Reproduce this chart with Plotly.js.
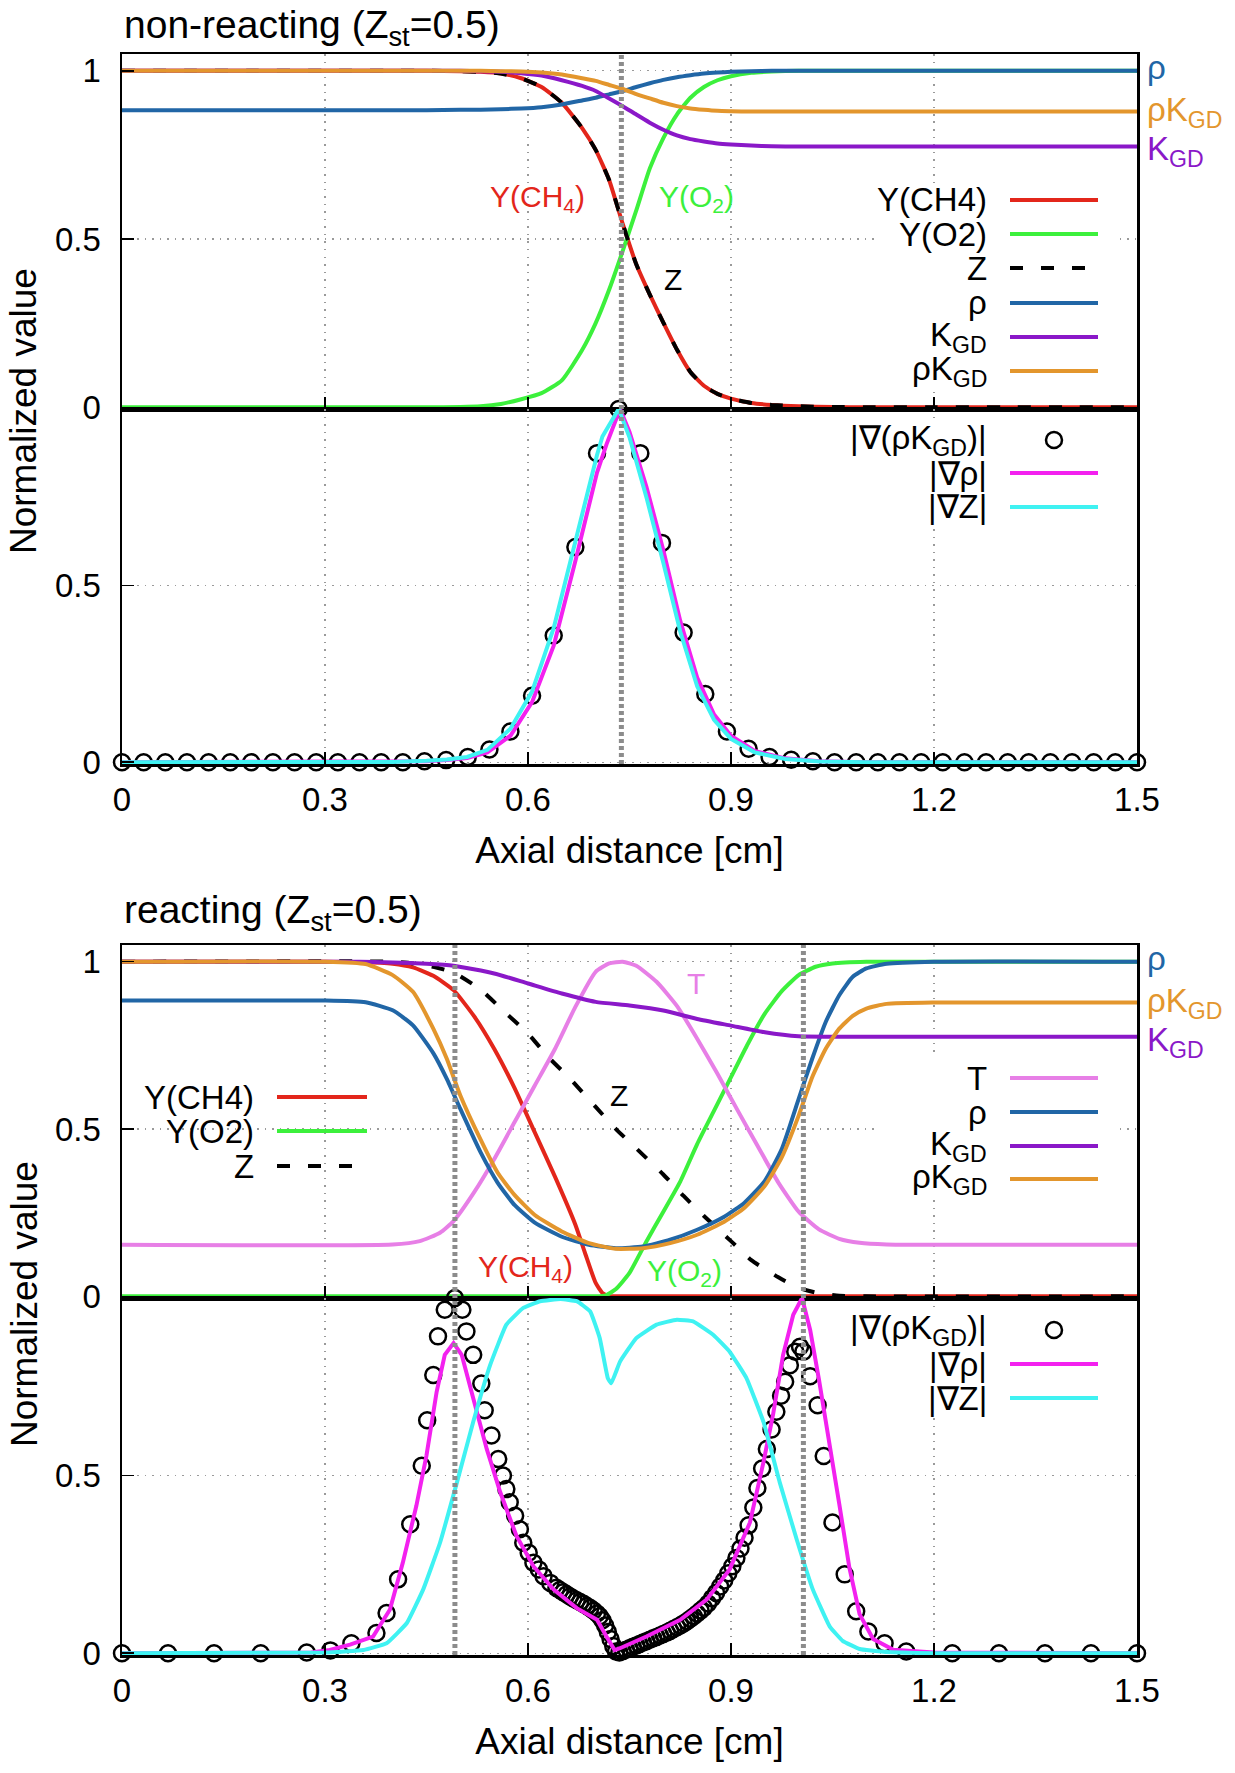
<!DOCTYPE html>
<html>
<head>
<meta charset="utf-8">
<script src="https://cdn.plot.ly/plotly-3.0.1.min.js"></script>
<style>
  html, body { margin: 0; padding: 0; background: #fff; }
  #chart { width: 1235px; height: 1773px; }
</style>
</head>
<body>
<div id="chart"></div>
<script>
// ---------------- non-reacting case: profiles along the axis ----------------
const xNR = [0, 0.1, 0.2, 0.3, 0.4, 0.45, 0.5, 0.53, 0.56, 0.59, 0.62, 0.65, 0.68, 0.70, 0.72, 0.74, 0.76,
             0.78, 0.80, 0.82, 0.84, 0.86, 0.88, 0.90, 0.93, 0.96, 1.0, 1.05, 1.1, 1.2, 1.3, 1.4, 1.5];
const nrYCH4 = [1, 1, 1, 1, 1, 1, 0.999, 0.997, 0.992, 0.978, 0.952, 0.905, 0.83, 0.765, 0.675, 0.545, 0.425,
                0.335, 0.252, 0.172, 0.105, 0.064, 0.04, 0.026, 0.013, 0.007, 0.003, 0.001, 0, 0, 0, 0, 0];
const nrYO2 = [0, 0, 0, 0, 0, 0, 0.001, 0.003, 0.01, 0.024, 0.042, 0.08, 0.17, 0.25, 0.35, 0.465, 0.585,
               0.71, 0.80, 0.87, 0.92, 0.952, 0.972, 0.984, 0.994, 0.998, 1, 1, 1, 1, 1, 1, 1];
const nrZ = [1, 1, 1, 1, 1, 1, 0.999, 0.997, 0.992, 0.978, 0.952, 0.905, 0.83, 0.765, 0.675, 0.545, 0.425,
             0.335, 0.252, 0.172, 0.105, 0.064, 0.04, 0.026, 0.013, 0.007, 0.003, 0.001, 0, 0, 0, 0, 0];
const nrRho = [0.883, 0.883, 0.883, 0.883, 0.883, 0.883, 0.884, 0.884, 0.886, 0.888, 0.892, 0.9, 0.912, 0.92, 0.93,
               0.94, 0.952, 0.963, 0.973, 0.981, 0.987, 0.992, 0.995, 0.997, 0.999, 1, 1, 1, 1, 1, 1, 1, 1];
const nrKgd = [1, 1, 1, 1, 1, 1, 1, 0.999, 0.997, 0.993, 0.986, 0.972, 0.955, 0.94, 0.918, 0.895, 0.87,
               0.846, 0.825, 0.808, 0.797, 0.79, 0.784, 0.781, 0.778, 0.776, 0.775, 0.775, 0.775, 0.775, 0.775, 0.775, 0.775];
const nrRhoKgd = [1, 1, 1, 1, 1, 1, 1, 1, 0.999, 0.998, 0.995, 0.989, 0.978, 0.97, 0.958, 0.946, 0.931,
                  0.918, 0.905, 0.895, 0.888, 0.884, 0.881, 0.88, 0.879, 0.879, 0.879, 0.879, 0.879, 0.879, 0.879, 0.879, 0.879];

// normalised gradient magnitudes (non-reacting)
const xNRgradZ = [0, 0.40, 0.45, 0.48, 0.51, 0.54, 0.574, 0.606, 0.638, 0.670, 0.702, 0.71, 0.734, 0.75, 0.775,
                  0.80, 0.825, 0.85, 0.875, 0.90, 0.935, 0.98, 1.03, 1.1, 1.5];
const nrGradZ = [0, 0.001, 0.004, 0.008, 0.015, 0.035, 0.095, 0.2, 0.38, 0.63, 0.87, 0.922, 1.0, 0.92, 0.75,
                 0.565, 0.37, 0.215, 0.12, 0.066, 0.028, 0.009, 0.002, 0, 0];
const xNRgradRho = [0, 0.40, 0.45, 0.48, 0.51, 0.54, 0.574, 0.606, 0.638, 0.670, 0.702, 0.716, 0.736, 0.75, 0.775,
                    0.80, 0.825, 0.85, 0.875, 0.90, 0.935, 0.98, 1.03, 1.1, 1.5];
const nrGradRho = [0, 0.001, 0.003, 0.006, 0.012, 0.028, 0.075, 0.17, 0.33, 0.57, 0.82, 0.9, 1.0, 0.935, 0.78,
                   0.6, 0.4, 0.24, 0.135, 0.075, 0.032, 0.011, 0.003, 0, 0];
const xNRgradRhoK = [0, 0.032, 0.064, 0.096, 0.128, 0.160, 0.191, 0.223, 0.255, 0.287, 0.319, 0.351, 0.383, 0.415,
                     0.447, 0.479, 0.511, 0.543, 0.574, 0.606, 0.638, 0.670, 0.702, 0.734, 0.766, 0.798, 0.830,
                     0.862, 0.894, 0.926, 0.957, 0.989, 1.021, 1.053, 1.085, 1.117, 1.149, 1.181, 1.213, 1.245,
                     1.277, 1.309, 1.340, 1.372, 1.404, 1.436, 1.468, 1.5];
const nrGradRhoK = [0, 0, 0, 0, 0, 0, 0, 0, 0, 0, 0, 0, 0, 0,
                    0.003, 0.006, 0.015, 0.036, 0.087, 0.188, 0.359, 0.609, 0.875, 1.0, 0.875, 0.621, 0.367,
                    0.193, 0.087, 0.038, 0.015, 0.007, 0.003, 0, 0, 0, 0, 0, 0, 0,
                    0, 0, 0, 0, 0, 0, 0, 0];

// ---------------- reacting case: profiles along the axis ----------------
const xRCH4 = [0, 0.30, 0.35, 0.40, 0.43, 0.46, 0.49, 0.52, 0.55, 0.58, 0.61, 0.64, 0.67, 0.685, 0.70, 0.71, 0.72, 0.75, 1.0, 1.5];
const rYCH4 = [1, 1, 0.999, 0.994, 0.983, 0.958, 0.915, 0.838, 0.74, 0.623, 0.49, 0.357, 0.214, 0.125, 0.04, 0.01, 0.001, 0, 0, 0];
const xRO2 = [0, 0.70, 0.715, 0.73, 0.75, 0.775, 0.80, 0.825, 0.85, 0.875, 0.90, 0.925, 0.95, 0.975, 1.0, 1.025, 1.05, 1.1, 1.5];
const rYO2 = [0, 0, 0.003, 0.022, 0.07, 0.164, 0.253, 0.343, 0.455, 0.555, 0.655, 0.755, 0.845, 0.912, 0.96, 0.985, 0.995, 1, 1];
const xRZ = [0, 0.40, 0.43, 0.46, 0.49, 0.53, 0.56, 0.60, 0.63, 0.66, 0.70, 0.73, 0.76, 0.80, 0.83, 0.86, 0.90, 0.93,
             0.97, 1.0, 1.03, 1.06, 1.1, 1.5];
const rZ = [1, 1, 0.995, 0.985, 0.968, 0.917, 0.86, 0.785, 0.715, 0.655, 0.566, 0.5, 0.442, 0.364, 0.3, 0.24, 0.165, 0.108,
            0.057, 0.025, 0.009, 0.002, 0, 0];
const xRT = [0, 0.40, 0.44, 0.47, 0.49, 0.52, 0.55, 0.58, 0.61, 0.64, 0.67, 0.70, 0.72, 0.74, 0.76, 0.79, 0.82, 0.85,
             0.88, 0.91, 0.94, 0.97, 1.0, 1.03, 1.06, 1.09, 1.13, 1.2, 1.5];
const rT = [0.154, 0.155, 0.165, 0.19, 0.225, 0.31, 0.41, 0.52, 0.63, 0.74, 0.865, 0.97, 0.995, 1.0, 0.988, 0.94, 0.868, 0.77,
            0.665, 0.555, 0.447, 0.34, 0.253, 0.2, 0.172, 0.16, 0.155, 0.154, 0.154];
const xRRho = [0, 0.30, 0.36, 0.40, 0.43, 0.46, 0.48, 0.50, 0.53, 0.555, 0.58, 0.61, 0.65, 0.69, 0.73, 0.77, 0.81, 0.85,
               0.89, 0.92, 0.95, 0.975, 1.0, 1.02, 1.04, 1.06, 1.08, 1.10, 1.13, 1.2, 1.5];
const rRho = [0.884, 0.884, 0.879, 0.855, 0.81, 0.727, 0.65, 0.56, 0.43, 0.34, 0.273, 0.22, 0.178, 0.154, 0.144, 0.149, 0.169, 0.199,
              0.238, 0.28, 0.345, 0.44, 0.59, 0.71, 0.82, 0.9, 0.955, 0.98, 0.994, 1.0, 1.0];
const rRhoKgd = [1, 1, 0.993, 0.96, 0.91, 0.80, 0.71, 0.6, 0.468, 0.37, 0.303, 0.243, 0.194, 0.159, 0.142, 0.144, 0.159, 0.184,
                 0.223, 0.265, 0.33, 0.415, 0.54, 0.655, 0.74, 0.80, 0.838, 0.86, 0.874, 0.878, 0.878];
const xRKgd = [0, 0.35, 0.40, 0.45, 0.49, 0.55, 0.60, 0.65, 0.70, 0.75, 0.80, 0.85, 0.90, 0.95, 1.0, 1.05, 1.5];
const rKgd = [1.0, 1.0, 0.998, 0.994, 0.988, 0.965, 0.935, 0.905, 0.88, 0.869, 0.854, 0.829, 0.809, 0.789, 0.777, 0.776, 0.776];

// normalised gradient magnitudes (reacting)
const xRgradRho = [0, 0.28, 0.307, 0.337, 0.371, 0.396, 0.415, 0.435, 0.45, 0.465, 0.477, 0.49, 0.502, 0.519, 0.539, 0.559,
                   0.583, 0.608, 0.638, 0.672, 0.702, 0.716, 0.728, 0.736, 0.775, 0.825, 0.864, 0.898, 0.928, 0.948,
                   0.962, 0.977, 0.992, 1.005, 1.017, 1.03, 1.045, 1.06, 1.075, 1.09, 1.11, 1.14, 1.2, 1.5];
const rGradRho = [0, 0.002, 0.009, 0.024, 0.047, 0.123, 0.255, 0.415, 0.557, 0.736, 0.84, 0.873, 0.84, 0.717, 0.575, 0.453,
                  0.33, 0.245, 0.179, 0.127, 0.094, 0.047, 0.009, 0.014, 0.047, 0.094, 0.151, 0.236, 0.368, 0.538,
                  0.67, 0.84, 0.953, 1.0, 0.91, 0.77, 0.6, 0.42, 0.24, 0.11, 0.04, 0.01, 0.002, 0];
const xRgradZ = [0, 0.30, 0.357, 0.391, 0.421, 0.445, 0.47, 0.495, 0.519, 0.544, 0.568, 0.593, 0.618, 0.648, 0.672, 0.692,
                 0.706, 0.718, 0.723, 0.736, 0.76, 0.79, 0.82, 0.844, 0.874, 0.898, 0.923, 0.948, 0.972, 0.997, 1.021,
                 1.046, 1.065, 1.09, 1.125, 1.2, 1.5];
const rGradZ = [0, 0.002, 0.009, 0.028, 0.085, 0.179, 0.311, 0.481, 0.651, 0.811, 0.925, 0.972, 0.991, 0.997, 0.991, 0.962,
                0.887, 0.774, 0.76, 0.821, 0.887, 0.925, 0.939, 0.934, 0.896, 0.849, 0.774, 0.651, 0.481, 0.321, 0.179,
                0.075, 0.035, 0.012, 0.004, 0, 0];
const xRgradRhoK = [
  0, 0.068, 0.136, 0.205, 0.273, 0.308, 0.339, 0.376, 0.391, 0.408,
  0.426, 0.443, 0.451, 0.46, 0.467, 0.477, 0.492, 0.503, 0.509, 0.519,
  0.531, 0.536, 0.546, 0.556, 0.563, 0.568, 0.573, 0.581, 0.588, 0.593,
  0.601, 0.608, 0.616, 0.623, 0.633, 0.642,
  0.647, 0.652, 0.657, 0.662, 0.667, 0.672, 0.677, 0.682, 0.687, 0.692,
  0.697, 0.702, 0.706, 0.710, 0.714, 0.718, 0.722, 0.726, 0.730,
  0.735, 0.74, 0.745, 0.75, 0.755, 0.76, 0.765, 0.77, 0.775, 0.78,
  0.785, 0.79, 0.795, 0.80, 0.805, 0.81, 0.815, 0.82, 0.825, 0.83,
  0.835, 0.84, 0.845, 0.85, 0.855, 0.86,
  0.866, 0.872, 0.878, 0.884, 0.89, 0.896, 0.902, 0.908, 0.914, 0.92,
  0.926, 0.933, 0.939, 0.946, 0.953, 0.96, 0.967, 0.974, 0.98, 0.987,
  0.995, 1.002, 1.007,
  1.017, 1.028, 1.037, 1.05, 1.068, 1.085, 1.103, 1.127, 1.159, 1.227,
  1.296, 1.364, 1.432, 1.5];
const rGradRhoK = [
  0, 0, 0, 0, 0.002, 0.008, 0.028, 0.057, 0.113, 0.208,
  0.363, 0.528, 0.656, 0.783, 0.892, 0.967, 1.0, 0.967, 0.906, 0.84,
  0.759, 0.684, 0.613, 0.547, 0.5, 0.462, 0.425, 0.387, 0.349, 0.311,
  0.283, 0.255, 0.236, 0.217, 0.198, 0.184,
  0.178, 0.172, 0.166, 0.16, 0.154, 0.149, 0.144, 0.139, 0.133, 0.127,
  0.12, 0.112, 0.104, 0.093, 0.078, 0.06, 0.04, 0.02, 0.005,
  0.002, 0.006, 0.01, 0.014, 0.018, 0.022, 0.026, 0.03, 0.034, 0.038,
  0.042, 0.046, 0.05, 0.054, 0.058, 0.063, 0.068, 0.073, 0.078, 0.084,
  0.09, 0.097, 0.104, 0.112, 0.12, 0.128,
  0.14, 0.155, 0.17, 0.188, 0.205, 0.225, 0.245, 0.268, 0.295, 0.325,
  0.36, 0.41, 0.465, 0.52, 0.575, 0.63, 0.68, 0.725, 0.764, 0.811,
  0.849, 0.863, 0.849,
  0.78, 0.698, 0.555, 0.368, 0.222, 0.118, 0.061, 0.028, 0.005, 0,
  0, 0, 0, 0];

// reference positions marked by vertical dashed lines
const nrMarkX = [0.738];
const rMarkX = [0.492, 1.007];

// axis ticks
const xTickVals = [0, 0.3, 0.6, 0.9, 1.2, 1.5];
const xTickText = ['0', '0.3', '0.6', '0.9', '1.2', '1.5'];
const yTickValsUpper = [0, 0.5, 1];
const yTickTextUpper = ['0', '0.5', '1'];
const yTickValsLower = [0, 0.5];
const yTickTextLower = ['0', '0.5'];

// ---------------- styling ----------------
const FONT = '"Liberation Sans", Arial, Helvetica, sans-serif';
const COL = {
  ch4: '#e3261b', o2: '#3cf03c', z: '#000000', rho: '#2166a6', kgd: '#8a18c8',
  rhok: '#e3962d', gradRho: '#f321ef', gradZ: '#3ff2f2', T: '#e77fe6', mark: '#8c8c8c'
};
const LW = 4;
const ZDASH = '13px,18px';

// frame in pixels (plot area)
const L = 122, R = 1137, T = 54, B = 1655;
const px = v => (v - L) / (R - L);
const py = v => (B - v) / (B - T);

function lineTrace(x, y, color, xa, ya, extra) {
  extra = extra || {};
  return {
    type: 'scatter', mode: 'lines', x: x, y: y, xaxis: xa, yaxis: ya,
    line: { color: color, width: LW, dash: extra.dash || 'solid',
            shape: extra.shape || 'linear', smoothing: extra.smoothing || 0 },
    hoverinfo: 'skip'
  };
}
function circleTrace(x, y, xa, ya) {
  return {
    type: 'scatter', mode: 'markers', x: x, y: y, xaxis: xa, yaxis: ya, cliponaxis: false,
    marker: { symbol: 'circle-open', size: 16, color: '#000', line: { width: 2.5, color: '#000' } },
    hoverinfo: 'skip'
  };
}
const SP = { shape: 'spline', smoothing: 0.5 };

const data = [
  // non-reacting, species / transport
  lineTrace(xNR, nrYCH4, COL.ch4, 'x', 'y', SP),
  lineTrace(xNR, nrYO2, COL.o2, 'x', 'y', SP),
  lineTrace(xNR, nrZ, COL.z, 'x', 'y', Object.assign({ dash: ZDASH }, SP)),
  lineTrace(xNR, nrRho, COL.rho, 'x', 'y', SP),
  lineTrace(xNR, nrKgd, COL.kgd, 'x', 'y', SP),
  lineTrace(xNR, nrRhoKgd, COL.rhok, 'x', 'y', SP),
  // non-reacting, gradients
  circleTrace(xNRgradRhoK, nrGradRhoK, 'x2', 'y2'),
  lineTrace(xNRgradRho, nrGradRho, COL.gradRho, 'x2', 'y2'),
  lineTrace(xNRgradZ, nrGradZ, COL.gradZ, 'x2', 'y2'),
  // reacting, species / transport
  lineTrace(xRCH4, rYCH4, COL.ch4, 'x3', 'y3', SP),
  lineTrace(xRO2, rYO2, COL.o2, 'x3', 'y3', SP),
  lineTrace(xRZ, rZ, COL.z, 'x3', 'y3', Object.assign({ dash: ZDASH }, SP)),
  lineTrace(xRT, rT, COL.T, 'x3', 'y3', SP),
  lineTrace(xRRho, rRho, COL.rho, 'x3', 'y3', SP),
  lineTrace(xRKgd, rKgd, COL.kgd, 'x3', 'y3', SP),
  lineTrace(xRRho, rRhoKgd, COL.rhok, 'x3', 'y3', SP),
  // reacting, gradients
  circleTrace(xRgradRhoK, rGradRhoK, 'x4', 'y4'),
  lineTrace(xRgradRho, rGradRho, COL.gradRho, 'x4', 'y4'),
  lineTrace(xRgradZ, rGradZ, COL.gradZ, 'x4', 'y4', { shape: 'spline', smoothing: 0.3 })
];

// ---------------- axes ----------------
const GRID = { showgrid: true, gridcolor: '#9a9a9a', griddash: '1.5px,6px', gridwidth: 1.2 };
function xAxis(anchor, labelled) {
  const ax = Object.assign({
    domain: [0, 1], range: [0, 1.5], anchor: anchor, fixedrange: true,
    tickvals: xTickVals, ticktext: xTickText, showticklabels: labelled,
    ticks: 'inside', ticklen: 12, tickwidth: 1.5, tickcolor: '#000',
    tickfont: { size: 33, family: FONT, color: '#000' }, ticklabelstandoff: 5,
    showline: true, mirror: true, linecolor: '#000', linewidth: 2.5, zeroline: false
  }, GRID);
  if (labelled) {
    ax.title = { text: 'Axial distance [cm]', font: { size: 37, family: FONT, color: '#000' }, standoff: 20 };
  }
  return ax;
}
function yAxis(anchor, domain, range, vals, text) {
  return Object.assign({
    domain: domain, range: range, anchor: anchor, fixedrange: true,
    tickvals: vals, ticktext: text,
    ticks: 'inside', ticklen: 12, tickwidth: 1.5, tickcolor: '#000',
    tickfont: { size: 33, family: FONT, color: '#000' }, ticklabelstandoff: 12,
    showline: true, mirror: true, linecolor: '#000', linewidth: 2.5, zeroline: false
  }, GRID);
}
const RU = [-0.005, 1.05], RL = [-0.005, 1.0];

// ---------------- annotations & shapes ----------------
const annotations = [];
const shapes = [];

function note(text, x, y, opt) {
  annotations.push(Object.assign({
    text: text, x: x, y: y, xref: 'paper', yref: 'paper', showarrow: false,
    xanchor: 'center', yanchor: 'middle', font: { size: 33, family: FONT, color: '#000' }
  }, opt || {}));
}

// panel titles
note('non-reacting (Z<sub>st</sub>=0.5)', 0, py(27), { xanchor: 'left', font: { size: 39, family: FONT, color: '#000' } });
note('reacting (Z<sub>st</sub>=0.5)', 0, py(912), { xanchor: 'left', font: { size: 39, family: FONT, color: '#000' } });
// y-axis titles spanning each panel
note('Normalized value', px(24), py(411), { textangle: -90, font: { size: 37, family: FONT, color: '#000' } });
note('Normalized value', px(24), py(1304), { textangle: -90, font: { size: 37, family: FONT, color: '#000' } });

// in-plot curve labels
function curveLabel(text, x, y, xa, ya, color) {
  annotations.push({ text: text, x: x, y: y, xref: xa, yref: ya, showarrow: false,
    xanchor: 'center', yanchor: 'middle', font: { size: 30, family: FONT, color: color } });
}
curveLabel('Y(CH<sub>4</sub>)', 0.614, 0.62, 'x', 'y', COL.ch4);
curveLabel('Y(O<sub>2</sub>)', 0.849, 0.62, 'x', 'y', COL.o2);
curveLabel('Z', 0.814, 0.38, 'x', 'y', COL.z);
curveLabel('T', 0.848, 0.936, 'x3', 'y3', COL.T);
curveLabel('Z', 0.734, 0.599, 'x3', 'y3', COL.z);
curveLabel('Y(CH<sub>4</sub>)', 0.596, 0.082, 'x3', 'y3', COL.ch4);
curveLabel('Y(O<sub>2</sub>)', 0.831, 0.071, 'x3', 'y3', COL.o2);

// end-of-line labels outside the right frame
function endLabel(text, yVal, ya, color, dy) {
  annotations.push({ text: text, x: 1.5, y: yVal, xref: 'x', yref: ya, showarrow: false,
    xanchor: 'left', yanchor: 'middle', xshift: 8, yshift: dy || 0,
    font: { size: 33, family: FONT, color: color } });
}
endLabel('ρ', nrRho[nrRho.length - 1], 'y', COL.rho, 3);
endLabel('ρK<sub>GD</sub>', nrRhoKgd[nrRhoKgd.length - 1], 'y', COL.rhok, 0);
endLabel('K<sub>GD</sub>', nrKgd[nrKgd.length - 1], 'y', COL.kgd, -4);
endLabel('ρ', rRho[rRho.length - 1], 'y3', COL.rho, 3);
endLabel('ρK<sub>GD</sub>', rRhoKgd[rRhoKgd.length - 1], 'y3', COL.rhok, 0);
endLabel('K<sub>GD</sub>', rKgd[rKgd.length - 1], 'y3', COL.kgd, -5);

// keys: opaque box, right-aligned text, sample to the right
function keyBox(x0, y0, x1, y1) {
  shapes.push({ type: 'rect', xref: 'paper', yref: 'paper', x0: px(x0), x1: px(x1), y0: py(y1), y1: py(y0),
    fillcolor: '#fff', line: { width: 0 }, layer: 'above' });
}
function keyRow(text, textRight, yPix, sample, lineX0, lineX1) {
  note(text, px(textRight), py(yPix), { xanchor: 'right' });
  if (sample.type === 'circle') {
    shapes.push({ type: 'circle', xref: 'paper', yref: 'paper', xsizemode: 'pixel', ysizemode: 'pixel',
      xanchor: px((lineX0 + lineX1) / 2), yanchor: py(yPix), x0: -8, x1: 8, y0: -8, y1: 8,
      line: { color: '#000', width: 2.5 }, layer: 'above' });
  } else {
    shapes.push({ type: 'line', xref: 'paper', yref: 'paper', x0: px(lineX0), x1: px(lineX1), y0: py(yPix), y1: py(yPix),
      line: { color: sample.color, width: LW, dash: sample.dash || 'solid' }, layer: 'above' });
  }
}

keyBox(875, 183, 1118, 390);
[['Y(CH4)', 200, { color: COL.ch4 }],
 ['Y(O2)', 234, { color: COL.o2 }],
 ['Z', 268, { color: COL.z, dash: ZDASH }],
 ['ρ', 303, { color: COL.rho }],
 ['K<sub>GD</sub>', 337, { color: COL.kgd }],
 ['ρK<sub>GD</sub>', 371, { color: COL.rhok }]
].forEach(r => keyRow(r[0], 989, r[1], r[2], 1010, 1098));

keyBox(840, 418, 1118, 525);
[['|∇(ρK<sub>GD</sub>)|', 440, { type: 'circle' }],
 ['|∇ρ|', 473, { color: COL.gradRho }],
 ['|∇Z|', 507, { color: COL.gradZ }]
].forEach(r => keyRow(r[0], 989, r[1], r[2], 1010, 1098));

[['Y(CH4)', 1097, { color: COL.ch4 }],
 ['Y(O2)', 1131, { color: COL.o2 }],
 ['Z', 1166, { color: COL.z, dash: ZDASH }]
].forEach(r => keyRow(r[0], 256, r[1], r[2], 277, 367));

keyBox(875, 1058, 1118, 1198);
[['T', 1078, { color: COL.T }],
 ['ρ', 1112, { color: COL.rho }],
 ['K<sub>GD</sub>', 1146, { color: COL.kgd }],
 ['ρK<sub>GD</sub>', 1179, { color: COL.rhok }]
].forEach(r => keyRow(r[0], 989, r[1], r[2], 1010, 1098));

keyBox(840, 1308, 1118, 1416);
[['|∇(ρK<sub>GD</sub>)|', 1330, { type: 'circle' }],
 ['|∇ρ|', 1364, { color: COL.gradRho }],
 ['|∇Z|', 1398, { color: COL.gradZ }]
].forEach(r => keyRow(r[0], 989, r[1], r[2], 1010, 1098));

// vertical dashed reference lines across each panel
function markLine(xv, xa, ya) {
  shapes.push({ type: 'line', xref: xa, yref: ya + ' domain', x0: xv, x1: xv, y0: 0, y1: 1,
    line: { color: COL.mark, width: 5, dash: '4px,3px' }, layer: 'above' });
}
nrMarkX.forEach(v => { markLine(v, 'x', 'y'); markLine(v, 'x2', 'y2'); });
rMarkX.forEach(v => { markLine(v, 'x3', 'y3'); markLine(v, 'x4', 'y4'); });

const layout = {
  width: 1235, height: 1773,
  margin: { l: L, r: 1235 - R, t: T, b: 1773 - B },
  paper_bgcolor: '#fff', plot_bgcolor: '#fff',
  showlegend: false, hovermode: false,
  font: { family: FONT, size: 33, color: '#000' },
  xaxis: xAxis('y', false),
  xaxis2: xAxis('y2', true),
  xaxis3: xAxis('y3', false),
  xaxis4: xAxis('y4', true),
  yaxis: yAxis('x', [py(409), 1], RU, yTickValsUpper, yTickTextUpper),
  yaxis2: yAxis('x2', [py(764), py(409)], RL, yTickValsLower, yTickTextLower),
  yaxis3: yAxis('x3', [py(1298), py(945)], RU, yTickValsUpper, yTickTextUpper),
  yaxis4: yAxis('x4', [0, py(1298)], RL, yTickValsLower, yTickTextLower),
  annotations: annotations,
  shapes: shapes
};

Plotly.newPlot('chart', data, layout, { staticPlot: true, displayModeBar: false });
</script>
</body>
</html>
